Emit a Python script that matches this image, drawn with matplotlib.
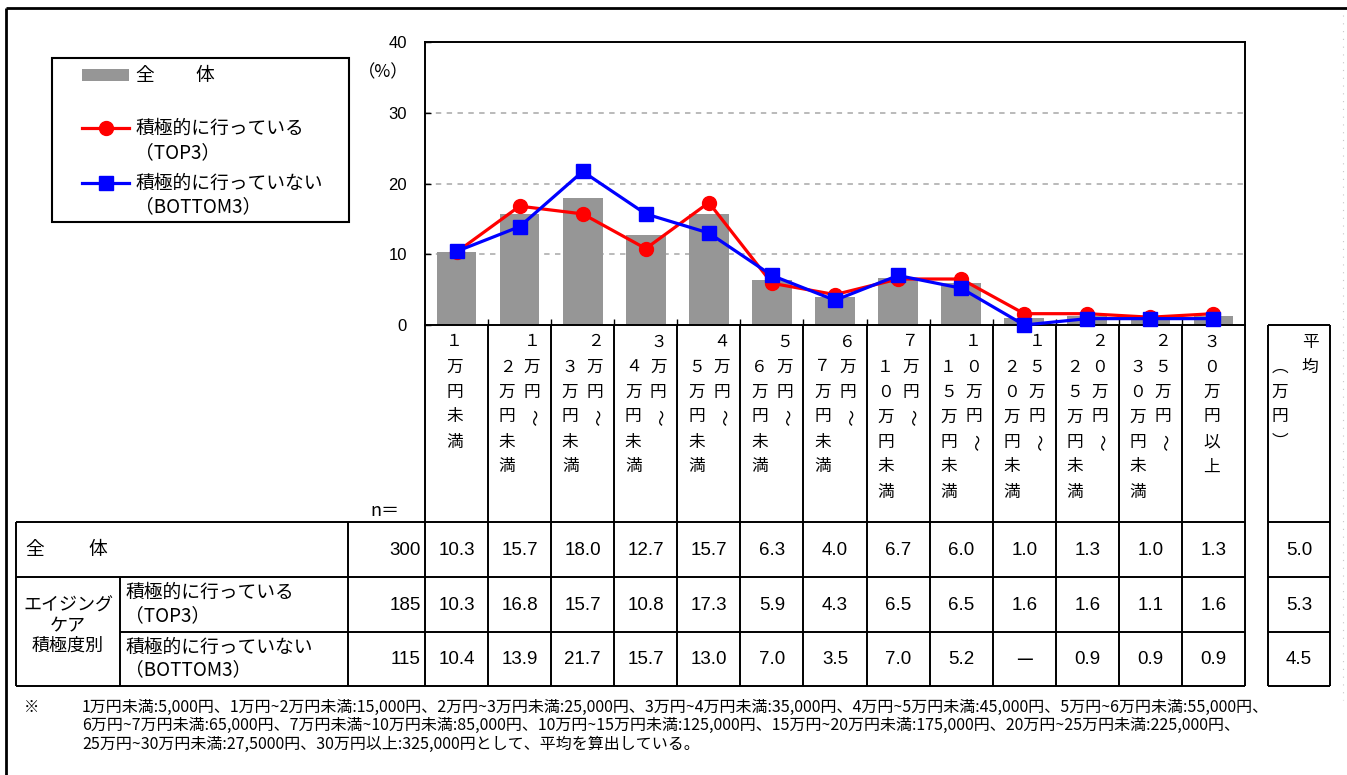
import matplotlib
matplotlib.use("Agg")
import matplotlib.pyplot as plt
from matplotlib import font_manager
from matplotlib.patches import Rectangle
from matplotlib.lines import Line2D

# ---------------- data ----------------
categories = ["1万円未満", "1万円～2万円未満", "2万円～3万円未満", "3万円～4万円未満",
              "4万円～5万円未満", "5万円～6万円未満", "6万円～7万円未満", "7万円～10万円未満",
              "10万円～15万円未満", "15万円～20万円未満", "20万円～25万円未満",
              "25万円～30万円未満", "30万円以上"]
avg_header = ["平均", "︵万円︶"]
total = [10.3, 15.7, 18.0, 12.7, 15.7, 6.3, 4.0, 6.7, 6.0, 1.0, 1.3, 1.0, 1.3]
top3 = [10.3, 16.8, 15.7, 10.8, 17.3, 5.9, 4.3, 6.5, 6.5, 1.6, 1.6, 1.1, 1.6]
bottom3 = [10.4, 13.9, 21.7, 15.7, 13.0, 7.0, 3.5, 7.0, 5.2, None, 0.9, 0.9, 0.9]
n_values = [300, 185, 115]
averages = [5.0, 5.3, 4.5]
series_names = ["全　　体", "積極的に行っている\n（TOP3）", "積極的に行っていない\n（BOTTOM3）"]
group_label = "エイジング\nケア\n積極度別"
yticks = [0, 10, 20, 30, 40]
footnote = [
    "1万円未満:5,000円、1万円~2万円未満:15,000円、2万円~3万円未満:25,000円、3万円~4万円未満:35,000円、4万円~5万円未満:45,000円、5万円~6万円未満:55,000円、",
    "6万円~7万円未満:65,000円、7万円未満~10万円未満:85,000円、10万円~15万円未満:125,000円、15万円~20万円未満:175,000円、20万円~25万円未満:225,000円、",
    "25万円~30万円未満:27,5000円、30万円以上:325,000円として、平均を算出している。",
]

# ---------------- fonts ----------------
JP = ["Noto Sans CJK JP", "DejaVu Sans"]
names = {f.name for f in font_manager.fontManager.ttflist}
NUM = ["Liberation Sans", "DejaVu Sans"] if "Liberation Sans" in names else ["DejaVu Sans"]
plt.rcParams["font.family"] = JP

W, H = 1347, 775
fig = plt.figure(figsize=(W / 100, H / 100), dpi=100)

AX_L, AX_R, AX_T, AX_B = 425, 1245, 42, 325
ncat = len(categories)
colw = (AX_R - AX_L) / ncat

ax = fig.add_axes([AX_L / W, 1 - AX_B / H, (AX_R - AX_L) / W, (AX_B - AX_T) / H])
x = list(range(ncat))
ax.bar(x, total, width=0.63, color="#969696", zorder=2)
ax.plot(x, top3, color="#ff0000", lw=2.3, marker="o", ms=10, zorder=3)
ax.plot(x, [0 if v is None else v for v in bottom3], color="#0000ff", lw=2.3,
        marker="s", ms=10, zorder=4, clip_on=False)
ax.set_xlim(-0.5, ncat - 0.5)
ax.set_ylim(0, 40)
ax.set_yticks(yticks)
ax.set_yticklabels([str(t) for t in yticks], family=NUM, fontsize=12)
ax.set_xticks([i - 0.5 for i in range(1, ncat)])
ax.set_xticklabels([])
ax.tick_params(axis="y", direction="in", length=4, width=1, pad=13)
ax.tick_params(axis="x", direction="in", length=4, width=1)
for t in [10, 20, 30]:
    ax.axhline(t, color="#b4b4b4", lw=1.3, ls=(0, (3, 3)), zorder=1)
for s in ax.spines.values():
    s.set_linewidth(1.4)
    s.set_color("black")

# ---------------- overlay (pixel coordinates) ----------------
ov = fig.add_axes([0, 0, 1, 1], zorder=5)
ov.set_xlim(0, W)
ov.set_ylim(H, 0)
ov.axis("off")
ov.patch.set_alpha(0)

def hline(y, x0, x1, lw=1.4, color="black"):
    ov.add_line(Line2D([x0, x1], [y, y], lw=lw, color=color, solid_capstyle="butt"))

def vline(xx, y0, y1, lw=1.4, color="black"):
    ov.add_line(Line2D([xx, xx], [y0, y1], lw=lw, color=color, solid_capstyle="butt"))

# outer frame
hline(8, 6, W, lw=2.0)
vline(6, 8, H, lw=2.0)
ov.add_line(Line2D([1343, 1343], [15, 700], lw=0.8, color="#c8c8c8", ls=(0, (1, 6))))

# axis unit
ov.text(383, 72, "（%）", fontsize=12.5, ha="center", va="center", family=JP)

# legend
ov.add_patch(Rectangle((52, 58), 297, 164, fill=False, lw=1.5, ec="black"))
ov.add_patch(Rectangle((82, 69), 47, 12, color="#969696", lw=0))
ov.text(135, 76, "全", fontsize=13.5, va="center", family=JP)
ov.text(195, 76, "体", fontsize=13.5, va="center", family=JP)
ov.add_line(Line2D([82, 129], [128, 128], color="#ff0000", lw=2.3))
ov.add_line(Line2D([105.5], [128], color="#ff0000", marker="o", ms=10))
ov.text(135, 128, "積極的に行っている", fontsize=13.5, va="center", family=JP)
ov.text(135, 153, "（TOP3）", fontsize=13.5, va="center", family=JP)
ov.add_line(Line2D([82, 129], [183, 183], color="#0000ff", lw=2.3))
ov.add_line(Line2D([105.5], [183], color="#0000ff", marker="s", ms=10))
ov.text(135, 183, "積極的に行っていない", fontsize=13.5, va="center", family=JP)
ov.text(135, 207, "（BOTTOM3）", fontsize=13.5, va="center", family=JP)

# vertical category headers
FW = str.maketrans("0123456789", "０１２３４５６７８９")
ROT = {"～": -90}
Y0, DY = 342, 25

def vcol(text, cx, start_row):
    for k, ch in enumerate(text):
        ov.text(cx, Y0 + DY * (start_row + k), ch, fontsize=12, ha="center", va="center",
                rotation=ROT.get(ch, 0), family=JP)

for i, cat in enumerate(categories):
    cx = AX_L + colw * (i + 0.5)
    lab = cat.translate(FW)
    if "～" in lab:
        a, b = lab.split("～")
        vcol(a + "～", cx + 12.5, 0)
        vcol(b, cx - 12.5, 1)
    else:
        vcol(lab, cx - 2, 0)

AVG_L, AVG_R = 1268, 1330
acx = (AVG_L + AVG_R) / 2
vcol(avg_header[0], acx + 11, 0)
vcol(avg_header[1], acx - 19, 1)

# table grid
R0, R1, R2, R3 = 522, 577, 632, 686
TL, NSEP, GSEP = 16, 348, 120
for i in range(ncat + 1):
    xx = AX_L + colw * i
    vline(xx, AX_B, R3)
for yy in (R0, R1, R3):
    hline(yy, TL, AX_R)
hline(R2, GSEP, AX_R)
vline(TL, R0, R3)
vline(NSEP, R0, R3)
vline(GSEP, R1, R3)
vline(AVG_L, AX_B, R3)
vline(AVG_R, AX_B, R3)
for yy in (AX_B, R0, R1, R2, R3):
    hline(yy, AVG_L, AVG_R)

ov.text(385, 511, "n＝", fontsize=13, ha="center", va="center", family=JP)

# row labels
ov.text(25, 549, "全", fontsize=13.5, va="center", family=JP)
ov.text(88, 549, "体", fontsize=13.5, va="center", family=JP)
ov.text(68, 626, group_label, fontsize=13, ha="center", va="center", family=JP,
        linespacing=1.15)
for r, (yc, name) in enumerate([((R1 + R2) / 2, series_names[1]), ((R2 + R3) / 2, series_names[2])]):
    l1, l2 = name.split("\n")
    ov.text(125, yc - 12, l1, fontsize=13.5, va="center", family=JP)
    ov.text(125, yc + 11, l2, fontsize=13.5, va="center", family=JP)

rows = [total, top3, bottom3]
ycs = [(R0 + R1) / 2, (R1 + R2) / 2, (R2 + R3) / 2]
for r, (vals, yc) in enumerate(zip(rows, ycs)):
    ov.text(421, yc + 1, str(n_values[r]), fontsize=13.5, ha="right", va="center", family=NUM)
    for i, v in enumerate(vals):
        cx = AX_L + colw * (i + 0.5)
        if v is None:
            ov.text(cx, yc, "—", fontsize=13.5, ha="center", va="center", family=JP)
        else:
            ov.text(cx, yc + 1, f"{v:.1f}", fontsize=13.5, ha="center", va="center", family=NUM)
    ov.text(acx, yc + 1, f"{averages[r]:.1f}", fontsize=13.5, ha="center", va="center", family=NUM)

# footnote
ov.text(32, 707, "※", fontsize=11, ha="center", va="center", family=JP)
for k, line in enumerate(footnote):
    ov.text(82, 707 + 18.5 * k, line, fontsize=11.5, va="center", family=JP)

fig.savefig("out.png", dpi=100)
